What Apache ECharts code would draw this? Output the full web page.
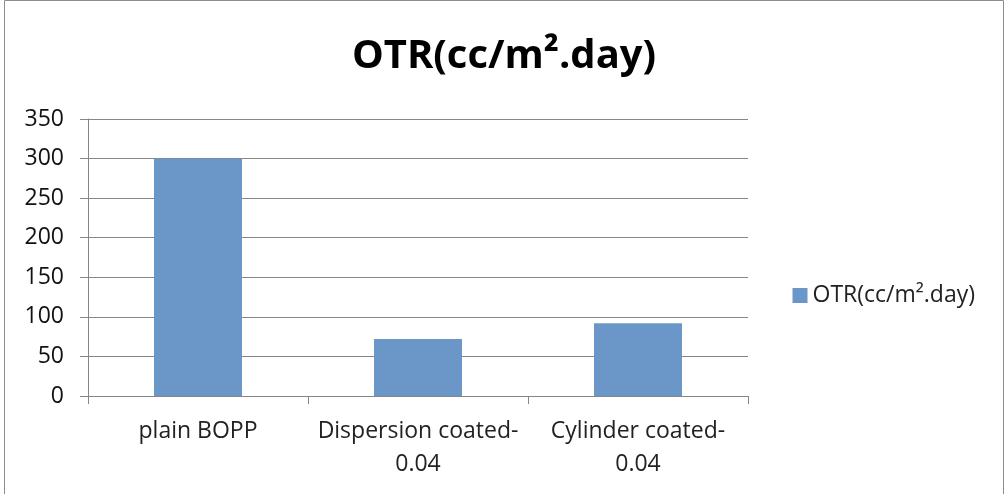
<!DOCTYPE html>
<html><head><meta charset="utf-8">
<script src="https://cdn.jsdelivr.net/npm/echarts@6/dist/echarts.min.js"></script>
<style>html,body{margin:0;padding:0;background:#fff}#c{width:1008px;height:494px}</style>
</head><body><div id="c"></div>
<script>
const categories = ["plain BOPP", "Dispersion coated-\n0.04", "Cylinder coated-\n0.04"];
const otrValues = [300, 72, 92];
const seriesName = "OTR(cc/m\u00B2.day)";
const titleText = "OTR(cc/m\u00B2.day)";

const chart = echarts.init(document.getElementById('c'), null, {renderer: 'canvas'});
const font = "'Open Sans', 'Liberation Sans', sans-serif";
chart.setOption({
  animation: false,
  backgroundColor: '#fff',
  title: {
    text: titleText, left: 'center', top: 32,
    textStyle: {fontFamily: font, fontWeight: 'bold', fontSize: 40, color: '#000'}
  },
  legend: {
    data: [seriesName], right: 28, top: 279, orient: 'vertical',
    itemWidth: 15, itemHeight: 15, itemGap: 5, icon: 'rect',
    textStyle: {fontFamily: font, fontSize: 23, color: '#222'}
  },
  grid: {left: 88, right: 260, top: 119, bottom: 98, containLabel: false},
  xAxis: {
    type: 'category', data: categories,
    axisLine: {lineStyle: {color: '#868686', width: 1}},
    axisTick: {show: true, length: 8, lineStyle: {color: '#868686'}},
    axisLabel: {fontFamily: font, fontSize: 23, color: '#222', margin: 19, lineHeight: 33, interval: 0}
  },
  yAxis: {
    type: 'value', min: 0, max: 350, interval: 50,
    axisLine: {show: true, lineStyle: {color: '#868686', width: 1}},
    axisTick: {show: true, length: 8, lineStyle: {color: '#868686'}},
    splitLine: {lineStyle: {color: '#868686', width: 1}},
    axisLabel: {fontFamily: font, fontSize: 23, color: '#111', margin: 24}
  },
  series: [{
    name: seriesName, type: 'bar', data: otrValues,
    barWidth: '40%', itemStyle: {color: '#6b96c8'}
  }],
  graphic: [{
    type: 'rect', shape: {x: 4.5, y: 0.5, width: 999, height: 500},
    style: {fill: 'none', stroke: '#8c8c8c', lineWidth: 1}, silent: true
  }]
});
</script></body></html>
